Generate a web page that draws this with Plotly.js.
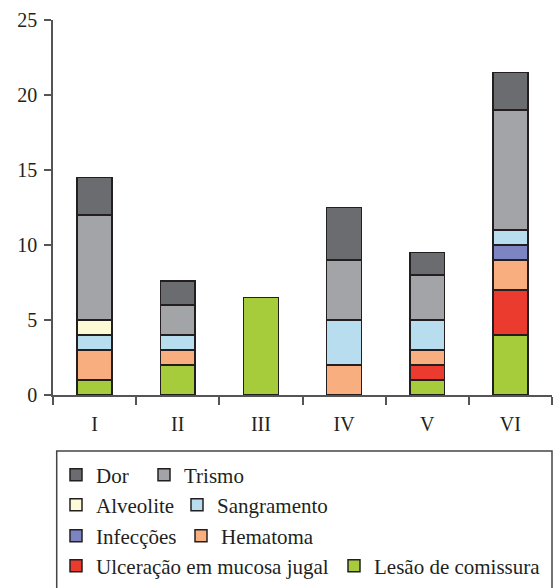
<!DOCTYPE html>
<html>
<head>
<meta charset="utf-8">
<script src="https://cdn.plot.ly/plotly-3.0.1.min.js"></script>
<style>html,body{margin:0;padding:0;background:#fff;}#chart{width:560px;height:588px;}</style>
</head>
<body>
<div id="chart"></div>
<script>
var categories = ['I', 'II', 'III', 'IV', 'V', 'VI'];
var lesao       = [1, 2, 6.5, null, 1, 4];
var ulceracao   = [null, null, null, null, 1, 3];
var hematoma    = [2, 1, null, 2, 1, 2];
var infeccoes   = [null, null, null, null, null, 1];
var sangramento = [1, 1, null, 3, 2, 1];
var alveolite   = [1, null, null, null, null, null];
var trismo      = [7, 2, null, 4, 3, 8];
var dor         = [2.5, 1.6, null, 3.5, 1.5, 2.5];

var seriesNames = ['Lesão de comissura', 'Ulceração em mucosa jugal', 'Hematoma', 'Infecções',
                   'Sangramento', 'Alveolite', 'Trismo', 'Dor'];
var seriesValues = [lesao, ulceracao, hematoma, infeccoes, sangramento, alveolite, trismo, dor];
var seriesColors = ['#a6cc3c', '#ea3b2e', '#f8ae7e', '#7d84c2', '#b7ddee', '#fdfad8', '#a3a4a7', '#6b6c6f'];

var FONT = 'Liberation Serif';
var INK = '#231f20';

// legend placement (symbol left edge px, row centre px)
var legPos = [[350, 566], [72, 566], [197, 536], [72, 536], [193, 505], [72, 505], [160, 475], [72, 475]];

function pyToPaper(py) { return (395 - py) / 375; }
function pxToPaper(px) { return (px - 53) / 499; }

var traces = seriesNames.map(function (n, i) {
  return {
    type: 'bar', name: n, x: categories, y: seriesValues[i],
    width: 0.42,
    legend: i === 0 ? 'legend' : 'legend' + (i + 1),
    marker: {color: seriesColors[i], line: {color: INK, width: 1.5}},
    hoverinfo: 'name+y'
  };
});

var layout = {
  width: 560, height: 588,
  margin: {l: 53, r: 8, t: 20, b: 193, autoexpand: false},
  paper_bgcolor: '#fff', plot_bgcolor: '#fff',
  barmode: 'stack',
  showlegend: true,
  font: {family: FONT, size: 20, color: INK},
  xaxis: {
    type: 'category', showline: true, linecolor: '#555', linewidth: 1.5,
    ticks: 'outside', tickson: 'boundaries', ticklen: 8, tickcolor: '#555', tickwidth: 1.5,
    ticklabelstandoff: 10,
    showgrid: false, zeroline: false, fixedrange: true,
    tickfont: {family: FONT, size: 20, color: INK}
  },
  yaxis: {
    range: [0, 25], dtick: 5, showline: true, linecolor: '#555', linewidth: 1.5,
    ticks: 'outside', ticklen: 7, tickcolor: '#555', tickwidth: 1.5,
    ticklabelstandoff: 3,
    showgrid: false, zeroline: false, fixedrange: true,
    tickfont: {family: FONT, size: 20, color: INK}
  },
  shapes: [{
    type: 'path', xref: 'paper', yref: 'paper',
    path: 'M ' + pxToPaper(56.7) + ',' + pyToPaper(600) +
          ' L ' + pxToPaper(56.7) + ',' + pyToPaper(451) +
          ' L ' + pxToPaper(552) + ',' + pyToPaper(451) +
          ' L ' + pxToPaper(552) + ',' + pyToPaper(600),
    line: {color: '#444', width: 1.5}
  }]
};

legPos.forEach(function (p, i) {
  var key = i === 0 ? 'legend' : 'legend' + (i + 1);
  layout[key] = {
    orientation: 'v', x: pxToPaper(p[0] - 16), xanchor: 'left',
    y: pyToPaper(p[1]), yanchor: 'middle',
    font: {family: FONT, size: 21, color: INK},
    bgcolor: 'rgba(0,0,0,0)', borderwidth: 0, itemclick: false, itemdoubleclick: false
  };
});

Plotly.newPlot('chart', traces, layout, {displayModeBar: false});
</script>
</body>
</html>
